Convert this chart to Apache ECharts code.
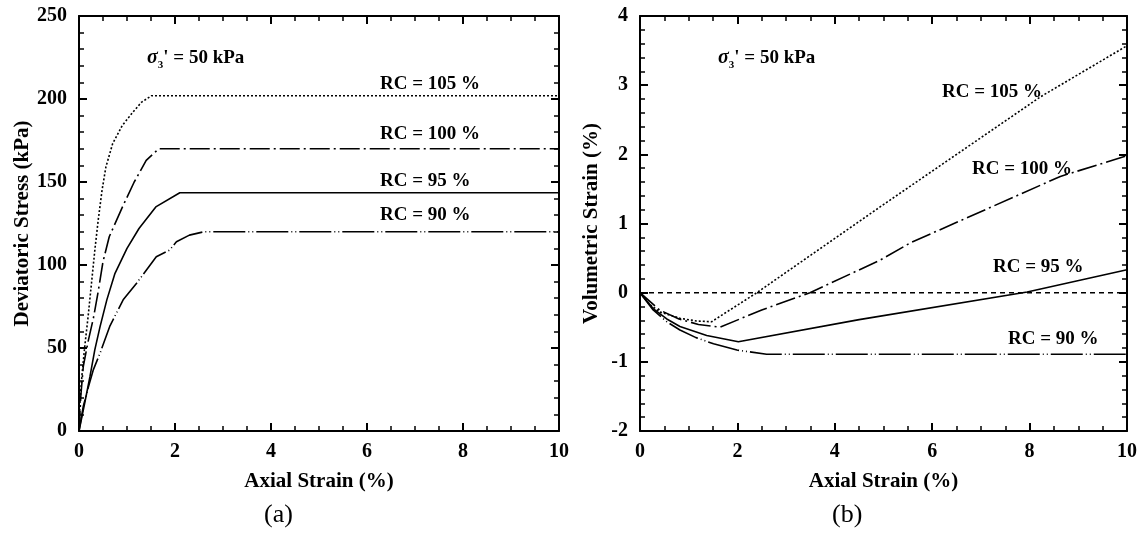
<!DOCTYPE html>
<html>
<head>
<meta charset="utf-8">
<style>
  html, body { margin: 0; padding: 0; background: #fff; }
  #chart { width: 1148px; height: 536px; }
</style>
<script src="https://cdn.jsdelivr.net/npm/echarts@6/dist/echarts.min.js"></script>
</head>
<body>
<div id="chart"></div>
<script>
  // (a) deviatoric stress (kPa) vs axial strain (%)
  const stressRC105 = [[0, 0], [0.02, 17], [0.06, 33], [0.12, 51], [0.19, 69], [0.26, 89], [0.33, 109], [0.4, 127], [0.48, 145], [0.56, 159], [0.7, 173], [0.9, 184], [1.12, 192], [1.3, 198], [1.51, 202], [10, 202]];
  const stressRC100 = [[0, 0], [0.04, 22], [0.09, 39], [0.19, 54], [0.3, 68], [0.4, 84], [0.5, 102], [0.63, 117], [0.89, 134], [1.15, 150], [1.4, 163], [1.66, 170], [10, 170]];
  const stressRC95 = [[0, 0], [0.12, 17], [0.23, 33], [0.33, 49], [0.44, 63], [0.58, 79], [0.75, 95], [1.0, 110], [1.25, 122], [1.6, 135], [2.1, 143.5], [10, 143.5]];
  const stressRC90 = [[0, 0], [0.09, 15], [0.2, 27], [0.3, 37], [0.44, 47], [0.64, 63], [0.92, 79], [1.2, 89], [1.61, 105], [1.89, 109], [2.03, 114], [2.3, 118], [2.6, 120], [10, 120]];

  // (b) volumetric strain (%) vs axial strain (%)
  const volRC105 = [[0, 0], [0.2, -0.17], [0.41, -0.28], [0.82, -0.37], [1.16, -0.41], [1.47, -0.42], [2.4, 0], [4.93, 1.24], [8.22, 2.83], [10, 3.57]];
  const volRC100 = [[0, 0], [0.4, -0.25], [0.8, -0.38], [1.2, -0.46], [1.64, -0.5], [2.5, -0.25], [3.49, 0], [4.93, 0.47], [5.55, 0.72], [8.63, 1.68], [10, 1.98]];
  const volRC95 = [[0, 0], [0.27, -0.23], [0.55, -0.38], [0.82, -0.49], [1.37, -0.62], [2.02, -0.71], [4.5, -0.39], [7.95, 0.01], [10, 0.33]];
  const volRC90 = [[0, 0], [0.27, -0.25], [0.55, -0.42], [0.82, -0.54], [1.15, -0.65], [1.51, -0.74], [1.99, -0.83], [2.6, -0.89], [10, -0.89]];
  const zeroLine = [[0, 0], [10, 0]];

  const rcLabels = ['RC = 105 %', 'RC = 100 %', 'RC = 95 %', 'RC = 90 %'];

  const serif = "'Liberation Serif', 'Times New Roman', serif";
  const black = '#000';

  const dotted = [2, 2];
  const dashDot = [20, 4, 2, 4];
  const longDashDotDot = [32, 3, 1, 3, 1, 3];

  function bottomAxis(gridIndex) {
    return {
      type: 'value', gridIndex, min: 0, max: 10, interval: 2,
      name: 'Axial Strain (%)', nameLocation: 'middle', nameGap: 40,
      nameTextStyle: { fontFamily: serif, fontWeight: 'bold', fontSize: 21, color: black },
      axisLine: { onZero: false, lineStyle: { color: black, width: 2 } },
      axisTick: { inside: true, length: 8, lineStyle: { color: black, width: 2 } },
      minorTick: { show: true, splitNumber: 4, length: 5, lineStyle: { color: black, width: 1.5 } },
      axisLabel: { fontFamily: serif, fontWeight: 'bold', fontSize: 20, color: black, margin: 11 },
      splitLine: { show: false },
    };
  }

  function topAxis(gridIndex) {
    return {
      type: 'value', gridIndex, position: 'top', min: 0, max: 10, interval: 2,
      axisLine: { onZero: false, lineStyle: { color: black, width: 2 } },
      axisTick: { inside: true, length: 8, lineStyle: { color: black, width: 2 } },
      minorTick: { show: true, splitNumber: 4, length: 5, lineStyle: { color: black, width: 1.5 } },
      axisLabel: { show: false },
      splitLine: { show: false },
    };
  }

  function leftAxis(gridIndex, min, max, interval, name, nameGap) {
    return {
      type: 'value', gridIndex, min, max, interval,
      name, nameLocation: 'middle', nameGap,
      nameTextStyle: { fontFamily: serif, fontWeight: 'bold', fontSize: 21, color: black },
      axisLine: { onZero: false, lineStyle: { color: black, width: 2 } },
      axisTick: { inside: true, length: 8, lineStyle: { color: black, width: 2 } },
      minorTick: { show: true, splitNumber: 5, length: 5, lineStyle: { color: black, width: 1.5 } },
      axisLabel: { fontFamily: serif, fontWeight: 'bold', fontSize: 20, color: black, margin: 12 },
      splitLine: { show: false },
    };
  }

  function rightAxis(gridIndex, min, max, interval) {
    return {
      type: 'value', gridIndex, position: 'right', min, max, interval,
      axisLine: { onZero: false, lineStyle: { color: black, width: 2 } },
      axisTick: { inside: true, length: 8, lineStyle: { color: black, width: 2 } },
      minorTick: { show: true, splitNumber: 5, length: 5, lineStyle: { color: black, width: 1.5 } },
      axisLabel: { show: false },
      splitLine: { show: false },
    };
  }

  function curve(data, xi, yi, type, width) {
    return {
      type: 'line', data, xAxisIndex: xi, yAxisIndex: yi,
      showSymbol: false, symbol: 'none', silent: true,
      lineStyle: { color: black, width: width || 1.6, type },
    };
  }

  function label(text, x, y) {
    return {
      type: 'text', left: x, top: y,
      style: { text, fill: black, font: 'bold 19px ' + serif },
    };
  }

  function sigmaLabel(x, y) {
    return {
      type: 'text', left: x, top: y,
      style: {
        text: '{s|σ}{sub|3}{n|\' = 50 kPa}',
        rich: {
          s: { fontFamily: serif, fontWeight: 'bold', fontStyle: 'italic', fontSize: 20, fill: black },
          sub: { fontFamily: serif, fontWeight: 'bold', fontSize: 11, fill: black, padding: [14, 0, 0, 0] },
          n: { fontFamily: serif, fontWeight: 'bold', fontSize: 19, fill: black },
        },
      },
    };
  }

  const chart = echarts.init(document.getElementById('chart'));
  chart.setOption({
    animation: false,
    backgroundColor: '#fff',
    grid: [
      { left: 79, top: 16, width: 480, height: 415 },
      { left: 640, top: 16, width: 487, height: 415 },
    ],
    xAxis: [bottomAxis(0), topAxis(0), bottomAxis(1), topAxis(1)],
    yAxis: [
      leftAxis(0, 0, 250, 50, 'Deviatoric Stress (kPa)', 46),
      rightAxis(0, 0, 250, 50),
      leftAxis(1, -2, 4, 1, 'Volumetric Strain (%)', 38),
      rightAxis(1, -2, 4, 1),
    ],
    series: [
      curve(stressRC105, 0, 0, dotted),
      curve(stressRC100, 0, 0, dashDot),
      curve(stressRC95, 0, 0, 'solid'),
      curve(stressRC90, 0, 0, longDashDotDot),
      curve(zeroLine, 2, 2, [5, 4], 1.5),
      curve(volRC105, 2, 2, dotted),
      curve(volRC100, 2, 2, dashDot),
      curve(volRC95, 2, 2, 'solid'),
      curve(volRC90, 2, 2, longDashDotDot),
    ],
    graphic: [
      sigmaLabel(147, 48),
      label(rcLabels[0], 380, 75),
      label(rcLabels[1], 380, 125),
      label(rcLabels[2], 380, 172),
      label(rcLabels[3], 380, 206),
      sigmaLabel(718, 48),
      label(rcLabels[0], 942, 83),
      label(rcLabels[1], 972, 160),
      label(rcLabels[2], 993, 258),
      label(rcLabels[3], 1008, 330),
      { type: 'text', left: 264, top: 502, style: { text: '(a)', fill: black, font: '26px ' + serif } },
      { type: 'text', left: 832, top: 502, style: { text: '(b)', fill: black, font: '26px ' + serif } },
    ],
  });
</script>
</body>
</html>
